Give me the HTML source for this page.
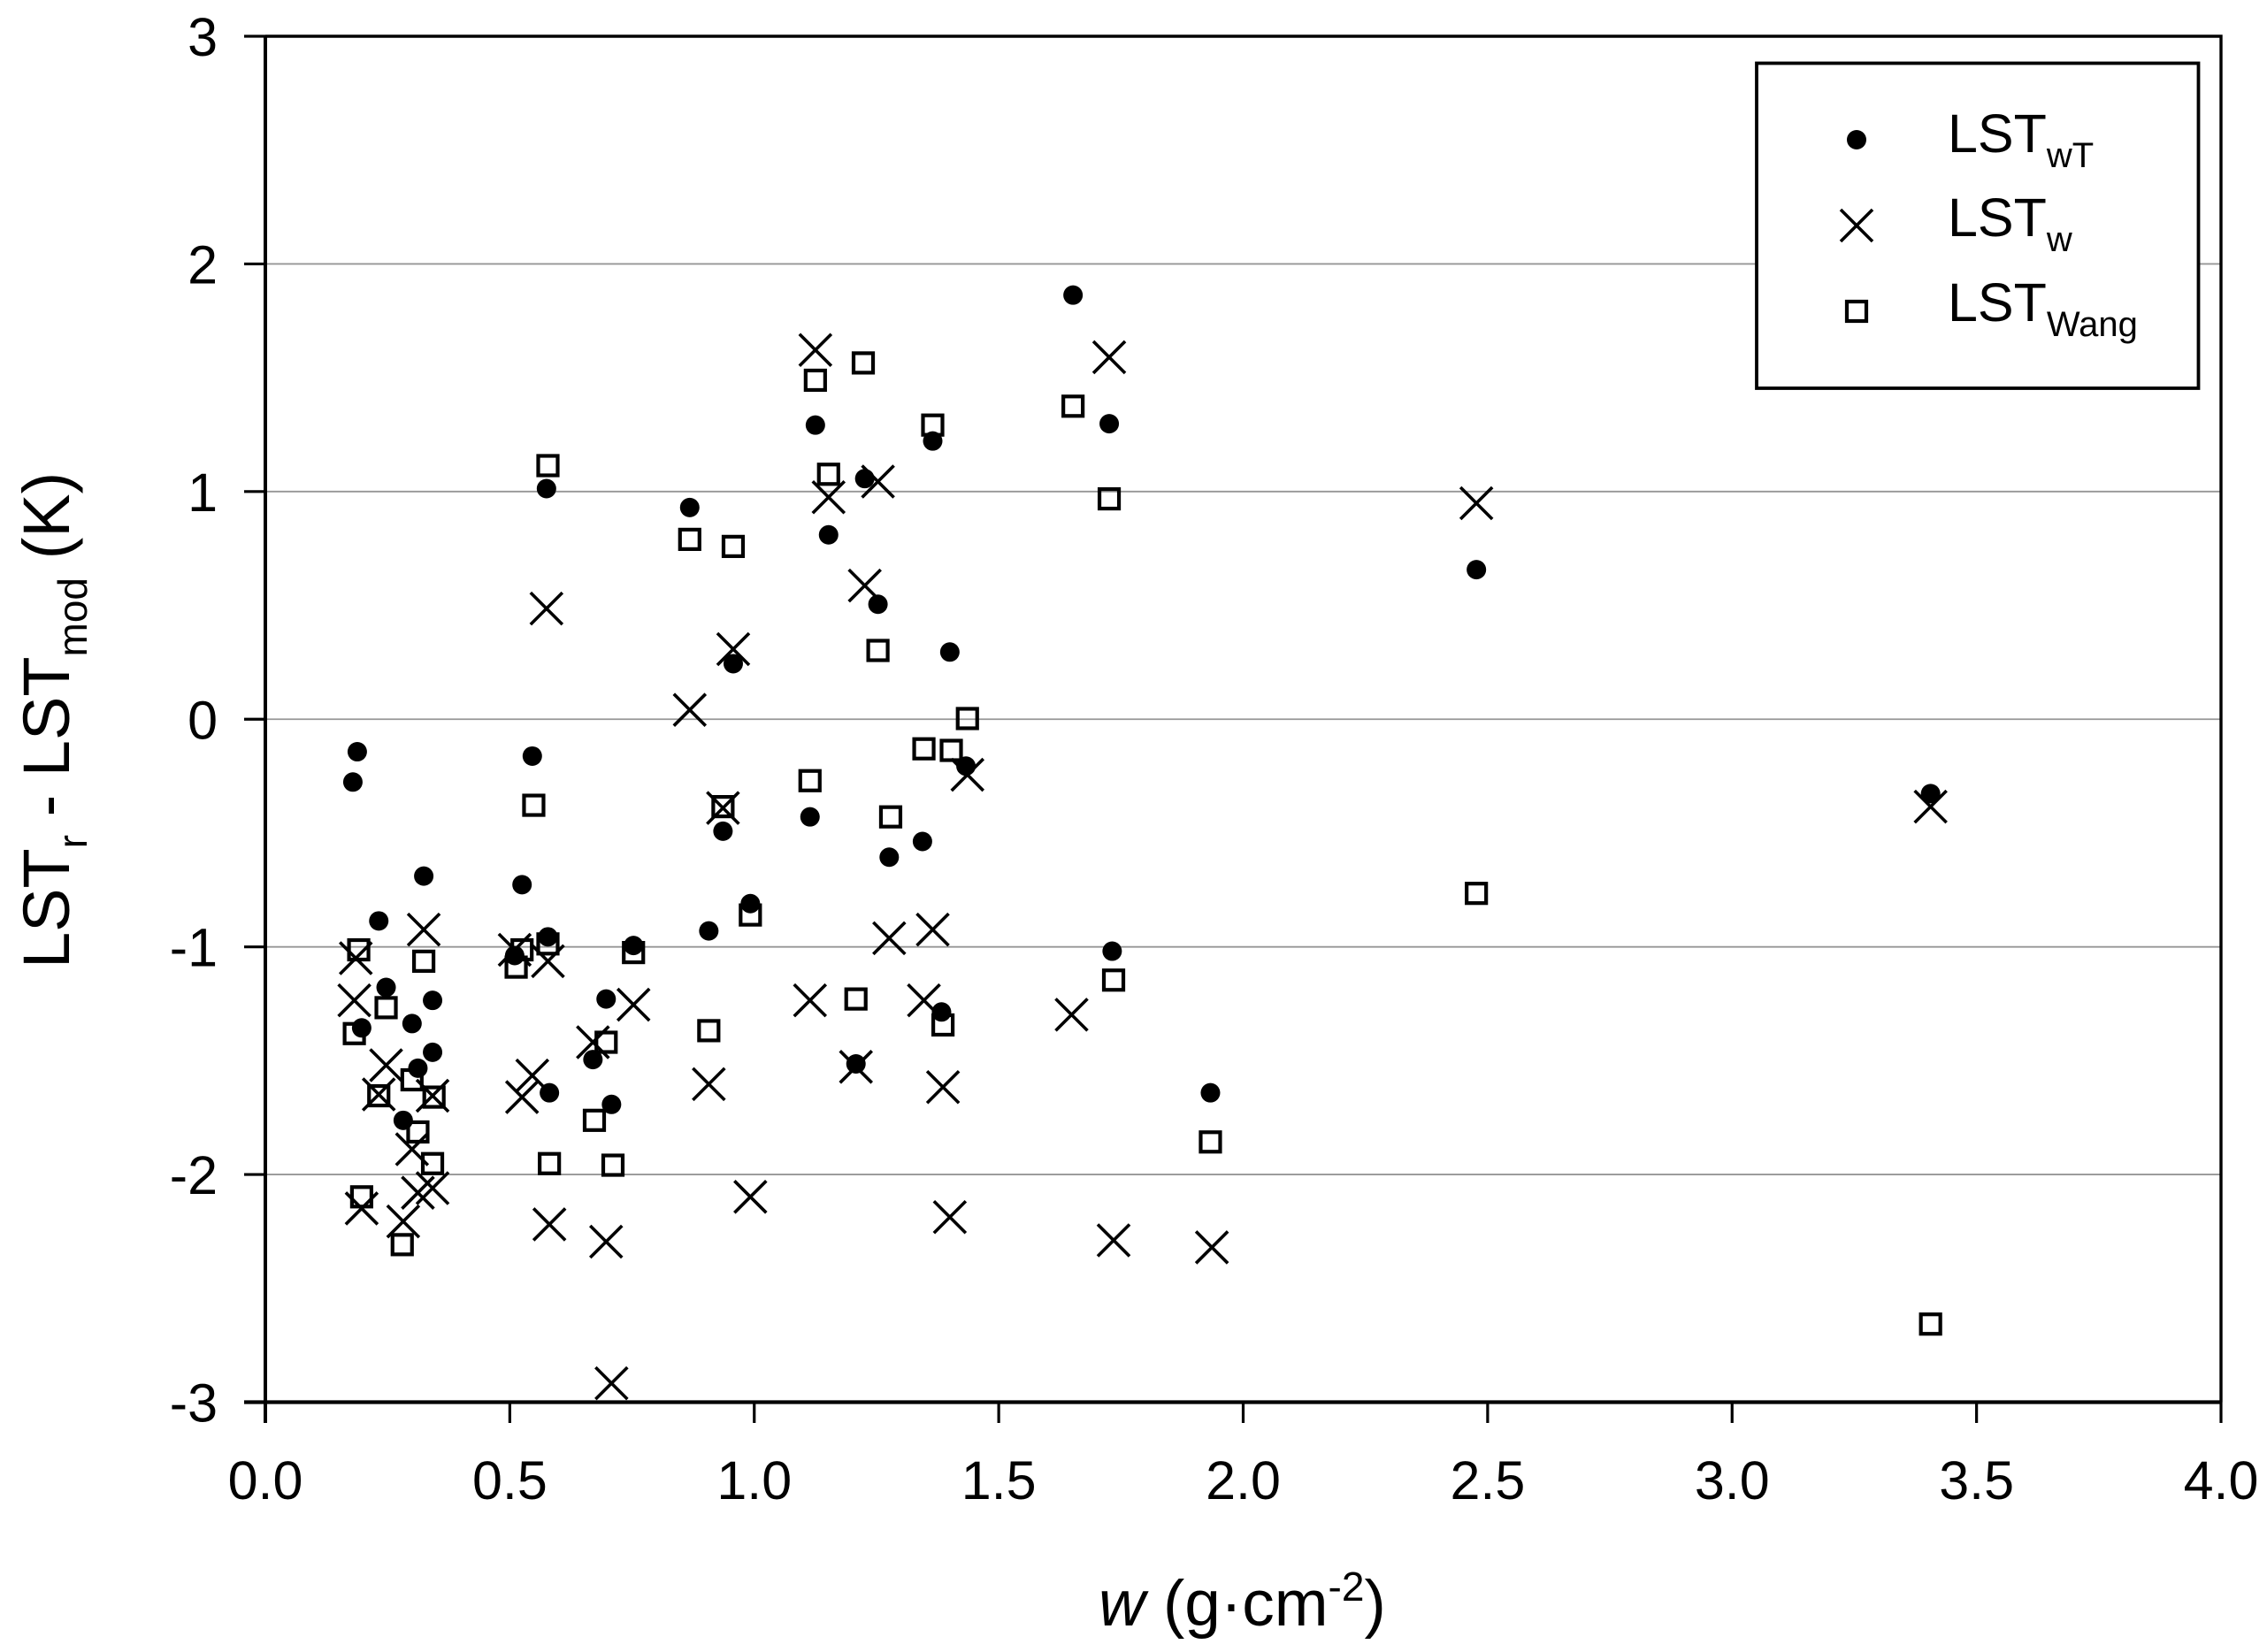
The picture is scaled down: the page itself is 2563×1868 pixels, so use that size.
<!DOCTYPE html>
<html lang="en">
<head>
<meta charset="utf-8">
<title>LST residuals vs water vapour</title>
<style>
html,body{margin:0;padding:0;background:#fff;}
svg{display:block;}
text{font-family:"Liberation Sans",sans-serif;fill:#000;}
</style>
</head>
<body>
<svg id="chart" xmlns="http://www.w3.org/2000/svg" width="2563" height="1868" viewBox="0 0 2563 1868">
  <rect width="2563" height="1868" fill="#fff"/>
  <g id="grid"></g>
  <g id="marks"></g>
  <g id="axes"></g>
  <text transform="translate(78,1095) rotate(-90)" font-size="74">LST<tspan font-size="46" dy="20">r</tspan><tspan dy="-20"> - LST</tspan><tspan font-size="46" dy="20">mod</tspan><tspan dy="-20"> (K)</tspan></text>
  <text x="1242" y="1838" font-size="73"><tspan font-style="italic">w</tspan> (g·cm<tspan font-size="46" dy="-28">-2</tspan><tspan dy="28">)</tspan></text>
  <g id="legend">
    <rect x="1986" y="71.5" width="499.5" height="367.5" fill="#fff" stroke="#000" stroke-width="3.8"/>
    <circle cx="2099" cy="158" r="11" fill="#000"/>
    <path d="M2081 237L2117 273M2081 273L2117 237" stroke="#000" stroke-width="3.6" fill="none"/>
    <rect x="2088" y="341" width="22" height="22" fill="none" stroke="#000" stroke-width="4.2"/>
    <text x="2202" y="172" font-size="61">LST<tspan font-size="40" dy="17">wT</tspan></text>
    <text x="2202" y="267" font-size="61">LST<tspan font-size="40" dy="17">w</tspan></text>
    <text x="2202" y="363" font-size="61">LST<tspan font-size="40" dy="17">Wang</tspan></text>
  </g>
</svg>
<script>
const xTickValues = [0, 0.5, 1, 1.5, 2, 2.5, 3, 3.5, 4];
const xTickLabels = ["0.0", "0.5", "1.0", "1.5", "2.0", "2.5", "3.0", "3.5", "4.0"];
const yTickValues = [3, 2, 1, 0, -1, -2, -3];
const yTickLabels = ["3", "2", "1", "0", "-1", "-2", "-3"];

const lstWTx = [.188,.179,.324,.232,.247,.197,.300,.342,.342,.312,.282,.525,.510,.578,.670,.697,.753,.708,.581,.546,.575,.868,.957,.936,.907,.992,1.114,1.125,1.226,1.152,1.253,1.365,1.400,1.433,1.344,1.276,1.383,1.208,1.652,1.726,1.732,1.933,2.477,3.406];
const lstWTy = [-.143,-.276,-.689,-.886,-1.178,-1.356,-1.337,-1.235,-1.463,-1.533,-1.762,-.727,-1.038,-.956,-1.495,-1.229,-.994,-1.692,-1.641,-.162,1.013,.930,.244,-.492,-.930,-.81,-.429,1.292,1.057,.81,.505,1.222,.295,-.206,-.537,-.606,-1.286,-1.514,1.863,1.298,-1.019,-1.641,.657,-.327];

const lstWx = [.185,.182,.324,.232,.247,.197,.300,.342,.342,.312,.282,.525,.510,.578,.670,.697,.753,.708,.581,.546,.575,.868,.957,.936,.907,.992,1.114,1.125,1.226,1.152,1.253,1.365,1.400,1.436,1.347,1.276,1.386,1.208,1.649,1.726,1.735,1.936,2.477,3.406];
const lstWy = [-1.05,-1.235,-.924,-1.648,-1.52,-2.149,-1.889,-1.654,-2.06,-2.08,-2.206,-1.66,-1.013,-1.063,-1.419,-2.295,-1.254,-2.917,-2.219,-1.565,.486,.041,.308,-.39,-1.603,-2.098,-1.235,1.622,.587,.975,1.044,-.924,-2.187,-.244,-1.235,-.962,-1.616,-1.527,-1.298,1.59,-2.289,-2.32,.949,-.384];

const lstWangx = [.191,.182,.324,.247,.197,.232,.300,.345,.342,.312,.28,.525,.513,.578,.673,.697,.753,.711,.581,.549,.578,.868,.957,.936,.907,.992,1.114,1.125,1.223,1.152,1.253,1.365,1.403,1.436,1.347,1.279,1.386,1.208,1.652,1.726,1.735,1.933,2.477,3.406];
const lstWangy = [-1.013,-1.381,-1.063,-1.267,-2.098,-1.654,-1.584,-1.66,-1.952,-1.813,-2.308,-1.013,-1.089,-.987,-1.762,-1.419,-1.025,-1.959,-1.952,-.378,1.114,.790,.759,-.384,-1.368,-.86,-.27,1.489,1.565,1.076,.302,1.292,-.137,.003,-.13,-.429,-1.343,-1.229,1.375,.968,-1.146,-1.857,-.765,-2.657];

const NS = "http://www.w3.org/2000/svg";
const PLOT_LEFT = 300, PLOT_RIGHT = 2511, PLOT_TOP = 41, PLOT_BOTTOM = 1585.5;
const xScale = v => PLOT_LEFT + (v - 0) / 4 * (PLOT_RIGHT - PLOT_LEFT);
const yScale = v => PLOT_BOTTOM - (v + 3) / 6 * (PLOT_BOTTOM - PLOT_TOP);

function make(tag, attrs, parent) {
  const el = document.createElementNS(NS, tag);
  for (const k in attrs) el.setAttribute(k, attrs[k]);
  parent.appendChild(el);
  return el;
}

const gridG = document.getElementById("grid");
const axesG = document.getElementById("axes");
const marksG = document.getElementById("marks");

/* gridlines */
yTickValues.forEach(v => {
  if (v === 3 || v === -3) return;
  const line = make("line", {x1: PLOT_LEFT, x2: PLOT_RIGHT, y1: yScale(v), y2: yScale(v), stroke: "#969696", "stroke-width": 1.8}, gridG);
  
  
});

/* series marks */
lstWangx.forEach((x, i) => {
  const s = make("rect", {x: xScale(x) - 11, y: yScale(lstWangy[i]) - 11, width: 22, height: 22, fill: "none", stroke: "#000", "stroke-width": 4.2}, marksG);
  
  
});
lstWx.forEach((x, i) => {
  const cx = xScale(x), cy = yScale(lstWy[i]);
  const c = make("path", {d: `M${cx-18} ${cy-18}L${cx+18} ${cy+18}M${cx-18} ${cy+18}L${cx+18} ${cy-18}`, fill: "none", stroke: "#000", "stroke-width": 3.6}, marksG);
  
  
});
lstWTx.forEach((x, i) => {
  const d = make("circle", {cx: xScale(x), cy: yScale(lstWTy[i]), r: 11, fill: "#000"}, marksG);
  
  
});

/* frame */
const frame = make("path", {d: `M${PLOT_LEFT} ${PLOT_TOP}H${PLOT_RIGHT}V${PLOT_BOTTOM}`, fill: "none", stroke: "#000", "stroke-width": 3.4}, axesG);


const leftSpine = make("line", {x1: PLOT_LEFT, x2: PLOT_LEFT, y1: PLOT_TOP, y2: 1609, stroke: "#000", "stroke-width": 4}, axesG);


const bottomSpine = make("line", {x1: 276, x2: PLOT_RIGHT + 1.5, y1: PLOT_BOTTOM, y2: PLOT_BOTTOM, stroke: "#000", "stroke-width": 4.2}, axesG);



/* ticks and labels */
yTickValues.forEach((v, i) => {
  const t = make("line", {x1: 276, x2: PLOT_LEFT, y1: yScale(v), y2: yScale(v), stroke: "#000", "stroke-width": 3.2}, axesG);
  
  
  const l = make("text", {x: 246, y: yScale(v) + 22, "text-anchor": "end", "font-size": 61}, axesG);
  
  
  l.textContent = yTickLabels[i];
});
xTickValues.forEach((v, i) => {
  const t = make("line", {x1: xScale(v), x2: xScale(v), y1: PLOT_BOTTOM, y2: 1609, stroke: "#000", "stroke-width": 3.2}, axesG);
  
  
  const l = make("text", {x: xScale(v), y: 1695, "text-anchor": "middle", "font-size": 61}, axesG);
  
  
  l.textContent = xTickLabels[i];
});
</script>
</body>
</html>
